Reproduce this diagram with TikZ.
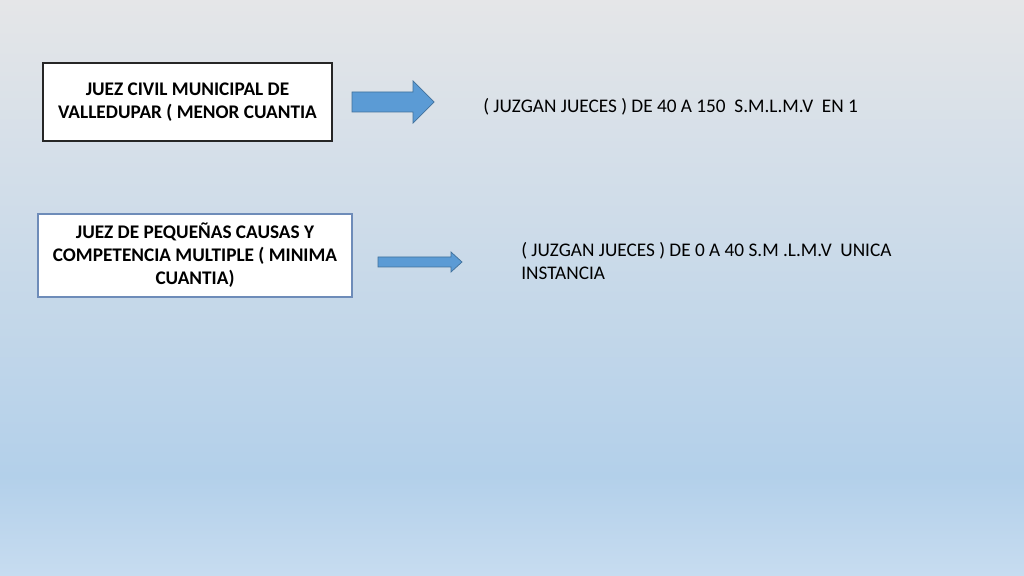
\documentclass[tikz,border=0pt]{standalone}
\usepackage{fontspec}
\setmainfont{Carlito}
\definecolor{fondoarriba}{RGB}{229,230,232}
\definecolor{fondoazul}{RGB}{179,208,234}
\definecolor{fondoabajo}{RGB}{199,220,240}
\definecolor{flechaazul}{RGB}{91,155,213}
\definecolor{bordeflecha}{RGB}{65,113,156}
\definecolor{bordecaja}{RGB}{110,140,185}
\pgfdeclareverticalshading{fondo}{100bp}{color(0bp)=(fondoabajo); color(25bp)=(fondoabajo); color(33.7bp)=(fondoazul); color(75bp)=(fondoarriba); color(100bp)=(fondoarriba)}
\begin{document}
\begin{tikzpicture}[x=0.025cm, y=-0.025cm,
    caja/.style = {draw, fill=white, line width=0.8pt, align=center, inner sep=0pt, font=\fontsize{13.7}{16.4}\selectfont\bfseries},
    texto/.style = {anchor=west, align=left, inner sep=0pt, font=\fontsize{13.7}{16.2}\selectfont},
    flecha/.style = {fill=flechaazul, draw=bordeflecha, line width=0.5pt}]
    % Fondo degradado
    \shade[shading=fondo] (0,0) rectangle (1024,576);
    \useasboundingbox (0,0) rectangle (1024,576);

    % Cajas de los jueces
    \node[caja, minimum width=7.225cm, minimum height=1.95cm, draw=black!85] (civil) at (187.5,102) {JUEZ CIVIL MUNICIPAL DE\\VALLEDUPAR ( MENOR CUANTIA};
    \node[caja, minimum width=7.85cm, minimum height=2.075cm, draw=bordecaja] (pequenas) at (195,255.5) {JUEZ DE PEQUEÑAS CAUSAS Y\\COMPETENCIA MULTIPLE ( MINIMA\\CUANTIA)};

    % Flechas de bloque
    \draw[flecha] (352,92) -- (413,92) -- (413,81) -- (434,102) -- (413,123) -- (413,112) -- (352,112) -- cycle;
    \draw[flecha] (378,257) -- (451,257) -- (451,252) -- (462,262) -- (451,272) -- (451,267) -- (378,267) -- cycle;

    % Cuantias
    \node[texto] (menor) at (483,107) {( JUZGAN JUECES ) DE 40 A 150~ S.M.L.M.V~ EN 1};
    \node[texto] (minima) at (521,261) {( JUZGAN JUECES ) DE 0 A 40 S.M .L.M.V~ UNICA\\INSTANCIA};

\end{tikzpicture}
\end{document}
